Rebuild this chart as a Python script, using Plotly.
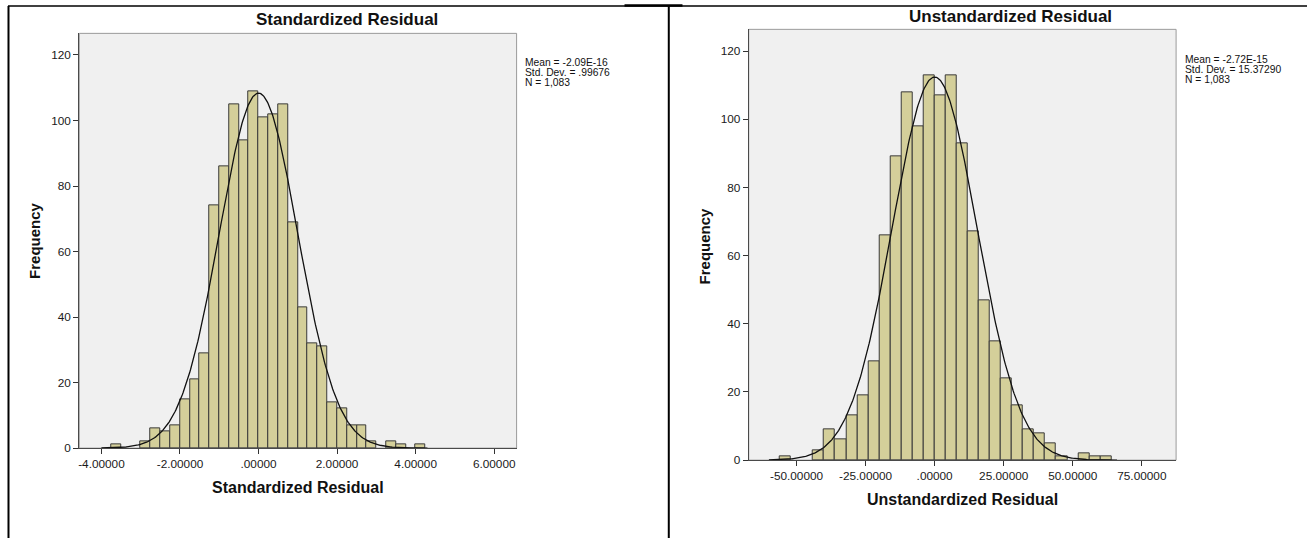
import numpy as np
import plotly.graph_objects as go

W = 1307          # reference width
REF_H = 538       # reference height (layout fractions are computed against it)
H = 546           # rendered figure height

# ---------------- data ----------------
# Standardized residual histogram (bin width 0.25)
std_bin_start = -3.75
std_bin_width = 0.25
std_counts = [1, 0, 0, 2, 6, 5, 7, 15, 21, 29, 74, 86, 105, 94, 109, 101,
              102, 105, 69, 43, 32, 31, 14, 12, 7, 7, 2, 0, 2, 1, 0, 1]
std_mean = -2.09e-16
std_sd = 0.99676
std_n = 1083
std_xticks = [-4, -2, 0, 2, 4, 6]
std_xticktext = ["-4.00000", "-2.00000", ".00000", "2.00000", "4.00000", "6.00000"]
std_stats = ["Mean = -2.09E-16", "Std. Dev. = .99676", "N = 1,083"]

# Unstandardized residual histogram (bin width 4)
uns_bin_start = -56
uns_bin_width = 4
uns_counts = [1, 0, 0, 3, 9, 6, 13, 19, 29, 66, 89, 108, 98, 113, 107, 113,
              93, 67, 47, 35, 24, 16, 9, 8, 5, 1, 0, 2, 1, 1]
uns_mean = -2.72e-15
uns_sd = 15.37290
uns_n = 1083
uns_xticks = [-50, -25, 0, 25, 50, 75]
uns_xticktext = ["-50.00000", "-25.00000", ".00000", "25.00000", "50.00000", "75.00000"]
uns_stats = ["Mean = -2.72E-15", "Std. Dev. = 15.37290", "N = 1,083"]

y_ticks = [0, 20, 40, 60, 80, 100, 120]

# ---------------- styling ----------------
FONT = "Liberation Sans, Arial, sans-serif"
BAR_FILL = "#d4cf9a"
BAR_LINE = "#3a3a3a"
PLOT_BG = "#f0f0f0"


def px(x):
    return x / W


def py(y):
    return 1 - y / REF_H


def bars(start, width, counts, xa, ya):
    xs = [start + (i + 0.5) * width for i, c in enumerate(counts) if c > 0]
    ys = [c for c in counts if c > 0]
    return go.Bar(x=xs, y=ys, width=width, marker=dict(color=BAR_FILL,
                  line=dict(color=BAR_LINE, width=1)), xaxis=xa, yaxis=ya,
                  showlegend=False, hoverinfo="x+y")


def normal_curve(mean, sd, n, width, lo, hi, xa, ya):
    xs = np.linspace(lo, hi, 400)
    ys = n * width * np.exp(-0.5 * ((xs - mean) / sd) ** 2) / (sd * np.sqrt(2 * np.pi))
    return go.Scatter(x=xs, y=ys, mode="lines", line=dict(color="#111111", width=1.3),
                      xaxis=xa, yaxis=ya, showlegend=False, hoverinfo="skip")


fig = go.Figure()
fig.add_trace(bars(std_bin_start, std_bin_width, std_counts, "x", "y"))
fig.add_trace(normal_curve(std_mean, std_sd, std_n, std_bin_width, -4.0, 4.3, "x", "y"))
fig.add_trace(bars(uns_bin_start, uns_bin_width, uns_counts, "x2", "y2"))
fig.add_trace(normal_curve(uns_mean, uns_sd, uns_n, uns_bin_width, -60, 66, "x2", "y2"))

axis_common = dict(showgrid=False, zeroline=False, showline=True, linecolor="#4a4a4a",
                   linewidth=1, ticks="outside", ticklen=5, tickcolor="#333333",
                   tickwidth=1, tickfont=dict(family=FONT, size=11.8, color="#1a1a1a"))

fig.update_layout(
    width=W, height=H, autosize=False,
    margin=dict(l=0, r=0, t=0, b=0),
    paper_bgcolor="white",
    plot_bgcolor=PLOT_BG,
    bargap=0,
    font=dict(family=FONT),
    xaxis=dict(domain=[px(78.3), px(516)], range=[-4.565, 6.57], anchor="y",
               tickvals=std_xticks, ticktext=std_xticktext, **axis_common),
    yaxis=dict(domain=[py(447.3), py(33.3)], range=[0, 126.6], anchor="x",
               tickvals=y_ticks, **axis_common),
    xaxis2=dict(domain=[px(748.3), px(1176)], range=[-67.3, 87.4], anchor="y2",
                tickvals=uns_xticks, ticktext=uns_xticktext, **axis_common),
    yaxis2=dict(domain=[py(459.3), py(29.3)], range=[0, 126.4], anchor="x2",
                tickvals=y_ticks, **axis_common),
)

shapes = []
# plot area borders (gray)
for xr, yr in (("x domain", "y domain"), ("x2 domain", "y2 domain")):
    shapes.append(dict(type="rect", xref=xr, yref=yr, x0=0, x1=1, y0=0, y1=1,
                       line=dict(color="#9a9a9a", width=1), layer="below"))
# outer frame lines
shapes.append(dict(type="line", xref="paper", yref="paper", x0=px(7.5), x1=px(7.5),
                   y0=py(6), y1=0, line=dict(color="black", width=2)))
shapes.append(dict(type="line", xref="paper", yref="paper", x0=px(7), x1=1,
                   y0=py(6), y1=py(6), line=dict(color="black", width=1.5)))
shapes.append(dict(type="line", xref="paper", yref="paper", x0=px(668.3), x1=px(668.3),
                   y0=py(6), y1=0, line=dict(color="black", width=2)))
shapes.append(dict(type="line", xref="paper", yref="paper", x0=px(624), x1=px(682),
                   y0=py(5.5), y1=py(5.5), line=dict(color="black", width=2.5)))
fig.update_layout(shapes=shapes)

ann = []


def text(x, y, s, size, bold=False, angle=0, xanchor="center", color="#111111"):
    ann.append(dict(xref="paper", yref="paper", x=px(x), y=py(y), text=f"<b>{s}</b>" if bold else s,
                    showarrow=False, xanchor=xanchor, yanchor="middle", textangle=angle,
                    font=dict(family=FONT, size=size, color=color)))


# titles
text(346.5, 19, "Standardized Residual", 17, bold=True)
text(1010.5, 16, "Unstandardized Residual", 17, bold=True)
# axis titles
text(297.5, 487, "Standardized Residual", 16, bold=True)
text(962.5, 499, "Unstandardized Residual", 16, bold=True)
text(33.5, 240, "Frequency", 15, bold=True, angle=-90)
text(703.5, 245, "Frequency", 15, bold=True, angle=-90)
# stats boxes
for i, s in enumerate(std_stats):
    text(522, 62 + i * 10.3, s, 10.3, xanchor="left")
for i, s in enumerate(uns_stats):
    text(1182.5, 59 + i * 10.3, s, 10.3, xanchor="left")

fig.update_layout(annotations=ann)

css_fix = "document.documentElement.style.margin='0';document.body.style.margin='0';document.body.style.overflow='hidden';"

fig.write_html(
    "out.html",
    config={"responsive": False, "displayModeBar": False},
    post_script=css_fix,
)
